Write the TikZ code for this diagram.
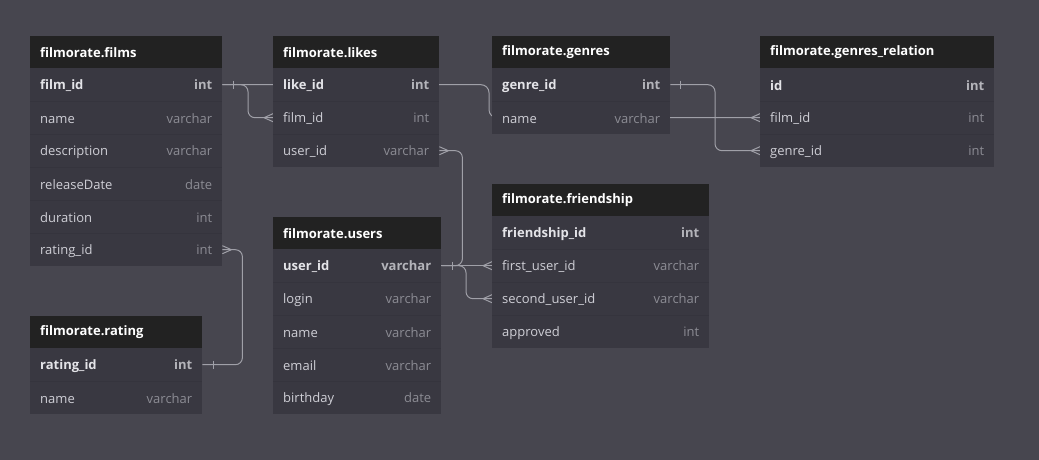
\documentclass[tikz,border=0pt]{standalone}
\usepackage{fontspec}
\setmainfont{Open Sans}
\usetikzlibrary{calc}
\definecolor{bgc}{HTML}{47464F}
\definecolor{bodyc}{HTML}{393841}
\definecolor{hdrc}{HTML}{222222}
\definecolor{sepc}{HTML}{35343D}
\definecolor{fn}{HTML}{CFCFD6}
\definecolor{ft}{HTML}{8C8C94}
\definecolor{pkn}{HTML}{E4E4E8}
\definecolor{pkt}{HTML}{B4B4BA}
\definecolor{linec}{HTML}{A0A0A8}
\pgfdeclarelayer{bg}\pgfdeclarelayer{lines}\pgfsetlayers{bg,lines,main}
\tikzset{
 hdr/.style={rectangle, fill=hdrc, anchor=north west, minimum height=32pt, inner xsep=10pt, inner ysep=0pt, font=\fontsize{13}{15}\selectfont\bfseries, text=white, align=left},
 erow/.style={rectangle, fill=bodyc, anchor=north west, minimum height=33pt, inner xsep=10pt, inner ysep=0pt, font=\fontsize{13}{15}\selectfont, align=left},
 conn/.style={draw=linec, line width=1pt},
 sepl/.style={draw=sepc, line width=0.8pt},
}
\newcommand\ertable[6]{%
 \pgfmathsetmacro\ertw{#5-20}%
 \node[hdr, text width=\ertw pt] (#1) at (#3,#4) {#2};
 \foreach \n/\t [count=\i] in {#6}{%
   \node[erow, text width=\ertw pt] (#1-r\i) at (#3,{#4+32+33*(\i-1)}) {\raisebox{-1.2pt}[\height][\depth]{\makebox[\ertw pt][s]{\ifnum\i=1 \bfseries\color{pkn}\n\hfill\color{pkt}\t\else\color{fn}\n\hfill\color{ft}\t\fi}}};
   \ifnum\i>1 \draw[sepl] (#1-r\i.north west) -- (#1-r\i.north east);\fi
 }%
}
\newcommand\footW[1]{\draw[conn] ([xshift=-9pt]#1) -- ([yshift=4pt]#1) ([xshift=-9pt]#1) -- ([yshift=-4pt]#1);}
\newcommand\footE[1]{\draw[conn] ([xshift=9pt]#1) -- ([yshift=4pt]#1) ([xshift=9pt]#1) -- ([yshift=-4pt]#1);}
\newcommand\ertick[2]{\draw[conn] ([xshift=#2pt,yshift=4pt]#1) -- ([xshift=#2pt,yshift=-4pt]#1);}
\begin{document}
\begin{tikzpicture}[x=1pt,y=-1pt]
\begin{pgfonlayer}{bg}
\fill[bgc] (0,0) rectangle (1039,460);
\end{pgfonlayer}
\useasboundingbox (0,0) rectangle (1039,460);
\ertable{films}{filmorate.films}{30}{36}{192}{film\_id/int, name/varchar, description/varchar, releaseDate/date, duration/int, rating\_id/int}
\ertable{likes}{filmorate.likes}{273}{36}{166}{like\_id/int, film\_id/int, user\_id/varchar}
\ertable{genres}{filmorate.genres}{492}{36}{178}{genre\_id/int, name/varchar}
\ertable{genrel}{filmorate.genres\_relation}{760}{36}{234}{id/int, film\_id/int, genre\_id/int}
\ertable{users}{filmorate.users}{273}{217}{168}{user\_id/varchar, login/varchar, name/varchar, email/varchar, birthday/date}
\ertable{friendship}{filmorate.friendship}{492}{184}{217}{friendship\_id/int, first\_user\_id/varchar, second\_user\_id/varchar, approved/int}
\ertable{rating}{filmorate.rating}{30}{316}{172}{rating\_id/int, name/varchar}
\begin{pgfonlayer}{lines}
 \draw[conn, rounded corners=8pt] (films-r1.east) -| ([xshift=-3pt]genres-r2.west) -- (genrel-r2.west);
 \draw[conn, rounded corners=7pt] (films-r1.east) -| ([xshift=-25pt]likes-r2.west) -- (likes-r2.west);
 \draw[conn, rounded corners=7pt] (genres-r1.east) -| ([xshift=-45pt]genrel-r3.west) -- (genrel-r3.west);
 \draw[conn, rounded corners=7pt] (likes-r3.east) -| ([xshift=21pt]users-r1.east) -- (users-r1.east);
 \draw[conn] (users-r1.east) -- (friendship-r2.west);
 \draw[conn, rounded corners=7pt] (users-r1.east) -| ([xshift=-26pt]friendship-r3.west) -- (friendship-r3.west);
 \draw[conn, rounded corners=7pt] (rating-r1.east) -| ([xshift=20pt]films-r6.east) -- (films-r6.east);
 \footW{likes-r2.west}
 \footW{genrel-r2.west}
 \footW{genrel-r3.west}
 \footW{friendship-r2.west}
 \footW{friendship-r3.west}
 \footE{likes-r3.east}
 \footE{films-r6.east}
 \ertick{films-r1.east}{11}
 \ertick{genres-r1.east}{10}
 \ertick{users-r1.east}{11}
 \ertick{rating-r1.east}{11}
\end{pgfonlayer}
\end{tikzpicture}
\end{document}
